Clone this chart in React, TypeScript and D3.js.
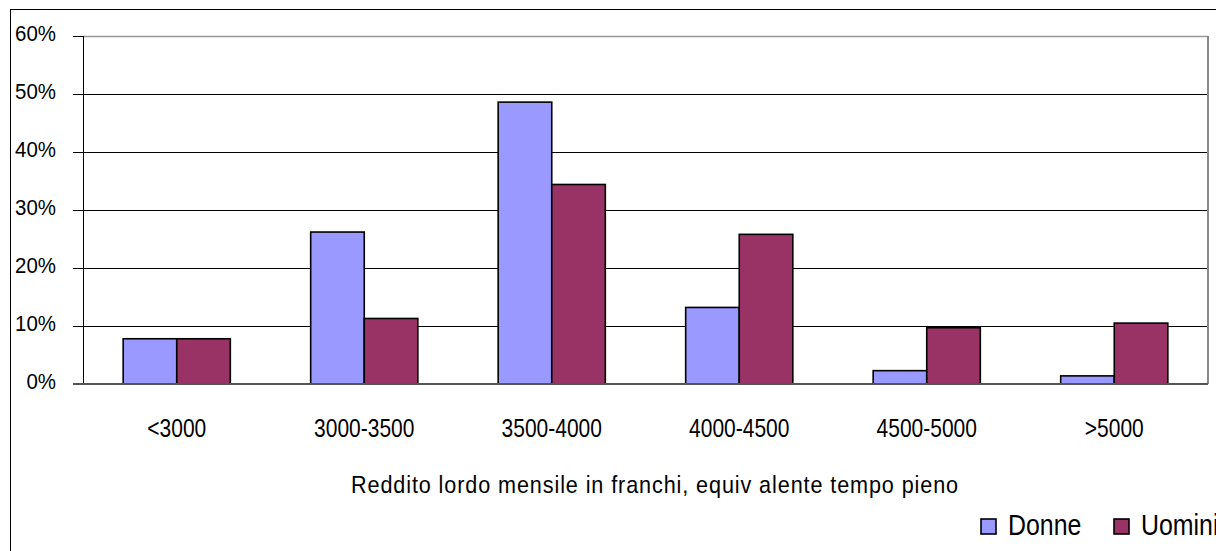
import React from "react";
import * as d3 from "d3";

const categories = ["<3000", "3000-3500", "3500-4000", "4000-4500", "4500-5000", ">5000"];
const donne = [7.8, 26.2, 48.6, 13.2, 2.3, 1.4];
const uomini = [7.8, 11.3, 34.4, 25.8, 9.7, 10.5];
const yTicks = [0, 10, 20, 30, 40, 50, 60];
const seriesNames = ["Donne", "Uomini"];
const seriesColors = ["#9999FF", "#993366"];
const xTitle = "Reddito lordo mensile in franchi, equiv alente tempo pieno";

const font = "'Liberation Sans', Arial, sans-serif";

function T({ x, y, size, sx, anchor, ls, children }: any) {
  return (
    <text transform={`translate(${x},${y}) scale(${sx},1)`} textAnchor={anchor || "start"}
      fontFamily={font} fontSize={size} letterSpacing={ls || 0} fill="#000">{children}</text>
  );
}

export default function App() {
  const W = 1216, H = 551;
  const left = 83, right = 1208, top = 36, bottom = 384;
  const x = d3.scaleBand().domain(categories).range([left, right]).paddingInner(0).paddingOuter(0);
  const y = d3.scaleLinear().domain([0, 60]).range([bottom, top]);
  const bw = x.bandwidth() / 3.5;
  const series = [donne, uomini];
  return (
    <svg width={W} height={H} style={{ position: "absolute", left: 0, top: 0, background: "#fff" }}>
      <rect x={0} y={0} width={W} height={H} fill="#fff" />
      <rect x={10.5} y={9.5} width={W + 20} height={H + 20} fill="#fff" stroke="#000" strokeWidth={1} />
      {yTicks.map((t) => (
        t === 0 || t === 60 ? null :
        <line key={t} x1={left - 10} x2={right} y1={y(t) + 0.5} y2={y(t) + 0.5} stroke="#000" strokeWidth={1} />
      ))}
      <line x1={left - 10} x2={left} y1={y(60) + 0.5} y2={y(60) + 0.5} stroke="#000" />
      <line x1={left} x2={right} y1={y(60) + 0.5} y2={y(60) + 0.5} stroke="#999" strokeWidth={1.5} />
      <line x1={right} x2={right} y1={top} y2={bottom} stroke="#888" strokeWidth={2} />
      {yTicks.map((t) => (
        <T key={t} x={56} y={y(t) + 5} size={22} sx={0.93} anchor="end">{`${t}%`}</T>
      ))}
      {categories.map((c, i) => (
        <g key={c}>
          {series.map((s, j) => {
            const bx = (x(c) as number) + x.bandwidth() / 2 - bw + j * bw;
            return (
              <rect key={j} x={bx} y={y(s[i])} width={bw} height={bottom - y(s[i])}
                fill={seriesColors[j]} stroke="#000" strokeWidth={1.6} />
            );
          })}
        </g>
      ))}
      <line x1={left + 0.5} x2={left + 0.5} y1={top} y2={bottom} stroke="#000" strokeWidth={1} />
      <line x1={left - 10} x2={right} y1={bottom} y2={bottom} stroke="#555" strokeWidth={2} />
      {categories.map((c) => (
        <T key={c} x={(x(c) as number) + x.bandwidth() / 2} y={437} size={25} sx={0.84} anchor="middle">{c}</T>
      ))}
      <T x={655} y={493} size={24} sx={0.9} ls={1} anchor="middle">{xTitle}</T>
      {seriesNames.map((n, j) => {
        const lx = j === 0 ? 981 : 1114;
        return (
          <g key={n}>
            <rect x={lx} y={519} width={15} height={15} fill={seriesColors[j]} stroke="#000" strokeWidth={1.6} />
            <T x={lx + 27} y={535} size={30} sx={0.83}>{n}</T>
          </g>
        );
      })}
    </svg>
  );
}
